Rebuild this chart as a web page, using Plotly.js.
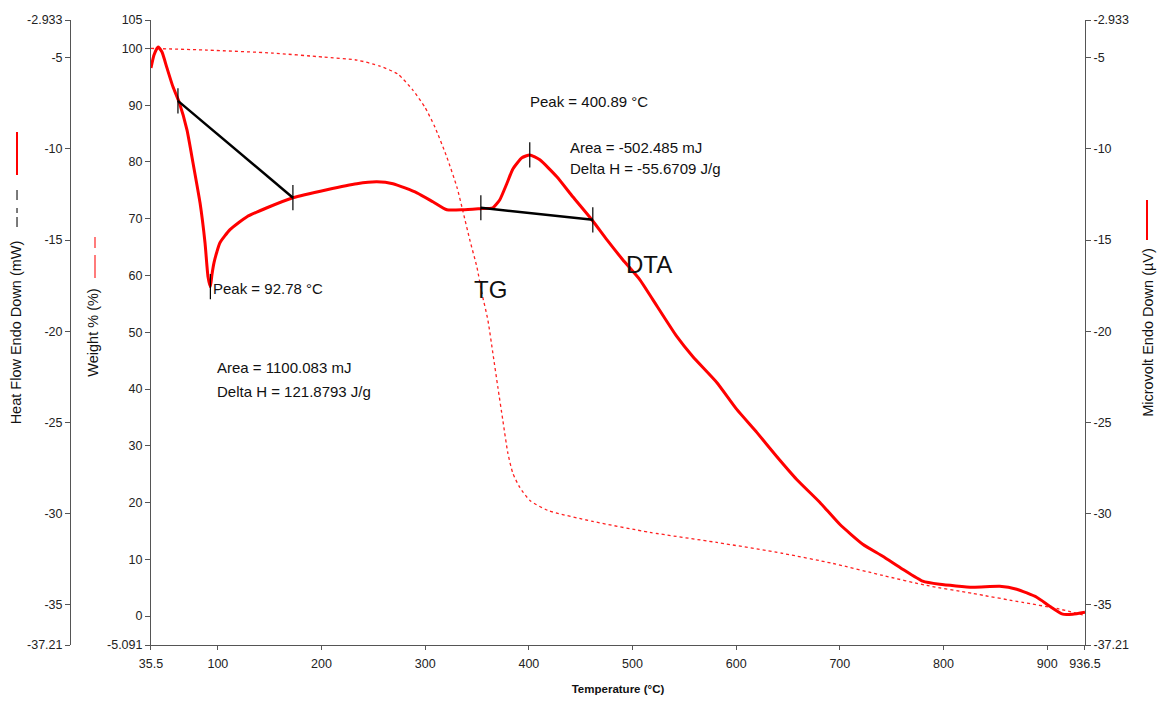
<!DOCTYPE html>
<html>
<head>
<meta charset="utf-8">
<script src="https://cdn.plot.ly/plotly-3.0.1.min.js"></script>
<style>html,body{margin:0;padding:0;background:#fff;}#chart{width:1157px;height:701px;}</style>
</head>
<body>
<div id="chart"></div>
<script>
// DTA signal (µV) vs temperature (°C)
const dtaTemp = [35.5, 38.4, 42.3, 46.1, 50.9, 56.7, 62.5, 70.2, 76.0, 82.8, 87.6, 90.5, 92.78, 94.3, 96.3, 99.1, 102.0, 111.7, 128.1, 147.4, 172.4, 205.2, 234.1, 253.4, 268.9, 292.0, 307.4, 320.9, 336.4, 352.8, 365.3, 372.0, 378.8, 384.6, 393.3, 400.89, 410.6, 427.0, 442.4, 460.8, 475.2, 490.6, 507.0, 519.6, 542.7, 558.1, 581.3, 600.6, 619.9, 639.1, 658.4, 680.6, 699.9, 722.1, 741.4, 760.6, 779.9, 796.3, 828.1, 854.2, 870.6, 889.9, 902.4, 915.0, 924.6, 936.5];
const dtaSignal = [-5.56, -4.85, -4.41, -4.69, -5.56, -6.60, -7.42, -8.96, -10.76, -12.96, -15.15, -17.01, -17.56, -16.90, -16.24, -15.64, -15.15, -14.43, -13.72, -13.23, -12.68, -12.24, -11.91, -11.81, -11.91, -12.41, -12.90, -13.34, -13.34, -13.28, -13.23, -12.79, -11.90, -11.10, -10.49, -10.33, -10.60, -11.53, -12.63, -13.89, -14.98, -16.08, -17.17, -18.27, -20.29, -21.39, -22.81, -24.29, -25.55, -26.87, -28.13, -29.38, -30.59, -31.68, -32.34, -33.05, -33.71, -33.88, -34.04, -33.99, -34.15, -34.59, -35.08, -35.52, -35.52, -35.41];

// TG weight (%) vs temperature (°C)
const tgTemp = [35.5, 89.5, 153.1, 201.4, 234.1, 256.3, 273.6, 288.1, 299.7, 309.4, 320.9, 330.6, 336.4, 343.1, 349.9, 354.7, 360.5, 365.3, 370.1, 374.9, 379.8, 384.6, 391.3, 401.0, 418.3, 461.7, 516.7, 581.3, 645.0, 693.2, 741.4, 783.8, 828.2, 876.4, 909.1, 936.5];
const tgWeight = [100.0, 99.70, 99.17, 98.47, 97.94, 96.88, 95.47, 92.65, 89.65, 86.13, 80.84, 75.56, 71.33, 66.22, 61.46, 56.88, 52.12, 46.30, 40.31, 34.49, 28.67, 25.14, 22.67, 20.38, 18.62, 16.68, 14.75, 12.98, 11.04, 9.28, 7.16, 5.40, 3.99, 2.41, 1.35, 0.11];

// integration baselines and peaks
const base1Temp = [61.5, 172.4];
const base1Signal = [-7.37, -12.68];
const base2Temp = [353.7, 461.7];
const base2Signal = [-13.23, -13.89];
const peakTemp = [92.78, 400.89];
const peakSignal = [-17.56, -10.33];

// ticks
const xTickVals = [35.5, 100, 200, 300, 400, 500, 600, 700, 800, 900, 936.5];
const xTickText = ['35.5', '100', '200', '300', '400', '500', '600', '700', '800', '900', '936.5'];
const wTickVals = [-5.091, 0, 10, 20, 30, 40, 50, 60, 70, 80, 90, 100, 105];
const wTickText = ['-5.091', '0', '10', '20', '30', '40', '50', '60', '70', '80', '90', '100', '105'];
const sTickVals = [-37.21, -35, -30, -25, -20, -15, -10, -5, -2.933];
const sTickText = ['-37.21', '-35', '-30', '-25', '-20', '-15', '-10', '-5', '-2.933'];

const FONT = 'Liberation Sans, Arial, sans-serif';
const AX = '#555';
const tickMarker = {symbol: 'line-ns-open', size: 18, color: '#000', line: {color: '#000', width: 1.2}};

const traces = [
  {x: tgTemp, y: tgWeight, xaxis: 'x', yaxis: 'y', mode: 'lines', line: {color: '#ff2020', width: 1.3, dash: '3px,3px', shape: 'spline', smoothing: 0.6}, hoverinfo: 'skip'},
  // invisible copy so the heat-flow axis is built
  {x: dtaTemp, y: dtaSignal, xaxis: 'x', yaxis: 'y2', mode: 'lines', opacity: 0, line: {width: 0}, hoverinfo: 'skip'},
  {x: dtaTemp, y: dtaSignal, xaxis: 'x', yaxis: 'y3', mode: 'lines', line: {color: '#ff0000', width: 3, shape: 'spline', smoothing: 0.5}, hoverinfo: 'skip'},
  {x: base1Temp, y: base1Signal, xaxis: 'x', yaxis: 'y3', mode: 'lines+markers', line: {color: '#000', width: 2.5}, marker: tickMarker, hoverinfo: 'skip'},
  {x: base2Temp, y: base2Signal, xaxis: 'x', yaxis: 'y3', mode: 'lines+markers', line: {color: '#000', width: 2.5}, marker: tickMarker, hoverinfo: 'skip'},
  {x: peakTemp, y: peakSignal, xaxis: 'x', yaxis: 'y3', mode: 'markers', marker: tickMarker, hoverinfo: 'skip'}
];

function ann(text, x, y, size) {
  return {text: text, x: x, y: y, xref: 'x', yref: 'y', xanchor: 'left', yanchor: 'middle', showarrow: false,
          font: {family: FONT, size: size || 15, color: '#111'}};
}

const commonY = {
  ticks: 'outside', ticklen: 5, tickcolor: AX, showline: true, linecolor: AX, linewidth: 1,
  showgrid: false, zeroline: false, automargin: false,
  tickfont: {family: FONT, size: 12.5, color: '#222'}
};
const titleFont = {family: FONT, size: 14.5, color: '#111'};

const layout = {
  width: 1157, height: 701,
  margin: {l: 70, r: 72, t: 20, b: 56, pad: 0},
  paper_bgcolor: '#fff', plot_bgcolor: '#fff',
  font: {family: FONT, size: 12, color: '#222'},
  showlegend: false,
  xaxis: {
    domain: [0.0798, 1], range: [35.5, 936.5],
    tickvals: xTickVals, ticktext: xTickText,
    ticks: 'outside', ticklen: 4, tickcolor: AX, showline: true, linecolor: AX, linewidth: 1,
    showgrid: false, zeroline: false, automargin: false, ticklabelstandoff: 3,
    tickfont: {family: FONT, size: 12.5, color: '#222'},
    title: {text: '<b>Temperature (°C)</b>', font: {family: FONT, size: 11.5, color: '#111'}, standoff: 14}
  },
  yaxis: Object.assign({}, commonY, {
    anchor: 'x', side: 'left', range: [-5.091, 105],
    tickvals: wTickVals, ticktext: wTickText,
    title: {text: 'Weight % (%)', font: titleFont, standoff: 4}
  }),
  yaxis2: Object.assign({}, commonY, {
    overlaying: 'y', anchor: 'free', position: 0, side: 'left', range: [-37.21, -2.933],
    tickvals: sTickVals, ticktext: sTickText,
    title: {text: 'Heat Flow Endo Down (mW)', font: titleFont, standoff: 0}
  }),
  yaxis3: Object.assign({}, commonY, {
    overlaying: 'y', anchor: 'x', side: 'right', range: [-37.21, -2.933],
    tickvals: sTickVals, ticktext: sTickText,
    title: {text: 'Microvolt Endo Down (µV)', font: titleFont, standoff: 14}
  }),
  annotations: [
    ann('Peak = 92.78 °C', 93.4, 57.76),
    ann('Area = 1100.083 mJ', 97.2, 43.85),
    ann('Delta H = 121.8793 J/g', 97.2, 39.62),
    ann('Peak = 400.89 °C', 399.0, 90.71),
    ann('Area = -502.485 mJ', 437.6, 82.59),
    ann('Delta H = -55.6709 J/g', 437.6, 78.89),
    ann('TG', 345.0, 57.58, 24),
    ann('DTA', 491.6, 62.02, 24)
  ],
  shapes: [
    // legend glyphs beside the axis titles
    {type: 'line', xref: 'paper', yref: 'paper', x0: -0.0522, x1: -0.0522, y0: 0.752, y1: 0.8208, line: {color: '#ff0000', width: 2}},
    {type: 'line', xref: 'paper', yref: 'paper', x0: -0.0522, x1: -0.0522, y0: 0.712, y1: 0.728, line: {color: '#222', width: 1.2}},
    {type: 'line', xref: 'paper', yref: 'paper', x0: -0.0522, x1: -0.0522, y0: 0.6912, y1: 0.6992, line: {color: '#222', width: 1.2}},
    {type: 'line', xref: 'paper', yref: 'paper', x0: -0.0522, x1: -0.0522, y0: 0.6688, y1: 0.6848, line: {color: '#222', width: 1.2}},
    {type: 'line', xref: 'paper', yref: 'paper', x0: 0.02463, x1: 0.02463, y0: 0.6352, y1: 0.6528, line: {color: '#ff5050', width: 1.5}},
    {type: 'line', xref: 'paper', yref: 'paper', x0: 0.02463, x1: 0.02463, y0: 0.5872, y1: 0.624, line: {color: '#ff5050', width: 1.5}},
    {type: 'line', xref: 'paper', yref: 'paper', x0: 1.0611, x1: 1.0611, y0: 0.648, y1: 0.712, line: {color: '#ff0000', width: 2}}
  ]
};

Plotly.newPlot('chart', traces, layout, {displayModeBar: false, staticPlot: true});
</script>
</body>
</html>
